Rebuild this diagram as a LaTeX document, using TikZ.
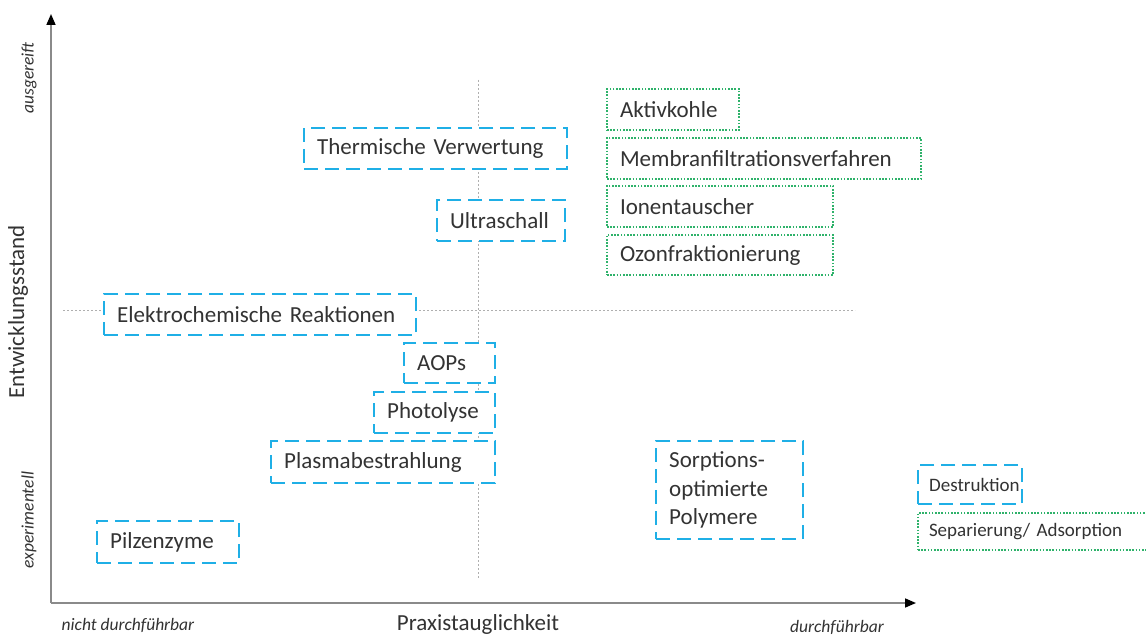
\documentclass[tikz,border=0pt]{standalone}
\usepackage{fontspec}
\setmainfont{Carlito}
\usetikzlibrary{arrows.meta}
\definecolor{bluebox}{HTML}{1FAFE6}
\definecolor{greenbox}{HTML}{2EB26A}
\definecolor{txt}{HTML}{333333}
\definecolor{axisgray}{HTML}{8A8A8A}
\definecolor{guide}{HTML}{AFAFAF}
\tikzset{
  bluedash/.style={draw=bluebox, line width=2.4pt, dash pattern=on 14pt off 7pt, fill=white,
    rectangle, anchor=north west, inner xsep=13pt, inner ysep=0pt, align=left, text=txt,
    font=\fontsize{23}{28.5}\selectfont},
  greendot/.style={draw=greenbox, line width=2pt, dash pattern=on 1.6pt off 1.6pt, fill=white,
    rectangle, anchor=north west, inner xsep=13pt, inner ysep=0pt, align=left, text=txt,
    font=\fontsize{23}{26}\selectfont},
  axisline/.style={draw=axisgray, line width=1.6pt},
  guideline/.style={draw=guide, line width=1pt, dash pattern=on 2pt off 2pt},
  axlabel/.style={text=txt, font=\fontsize{17.5}{19}\selectfont\itshape},
  axtitle/.style={text=txt, font=\fontsize{23}{25}\selectfont},
}
\newcommand{\bx}[7]{% style, name, x, y, w, h, text
  \node[#1, minimum width=#5pt, minimum height=#6pt, text width=#5pt-26pt] (#2) at (#3,#4) {#7};}
\begin{document}
\begin{tikzpicture}[x=1pt,y=-1pt]
\clip (0,0) rectangle (1146,636);
\fill[white] (0,0) rectangle (1146,636);
% guide lines
\coordinate (vtop) at (478,80);
\coordinate (vbot) at (478,578);
\coordinate (hl) at (63,311);
\coordinate (hr) at (855,311);
\draw[guideline] (vtop) -- (vbot);
\draw[guideline] (hl) -- (hr);
% axes
\coordinate (o) at (51,603);
\coordinate (ytip) at (51,14);
\coordinate (xtip) at (916,603);
\draw[axisline, -{Triangle[black,length=11pt,width=9pt]}] (o) -- (ytip);
\draw[axisline, -{Triangle[black,length=11pt,width=9pt]}] (o) -- (xtip);
% axis labels
\node[axtitle, rotate=90] (ylab) at (18,312) {Entwicklungsstand};
\node[axlabel, rotate=90] (yhi) at (29,78) {ausgereift};
\node[axlabel, rotate=90] (ylo) at (29,520) {experimentell};
\node[axlabel] (xlo) at (128,625) {nicht durchführbar};
\node[axtitle] (xlab) at (478,624) {Praxistauglichkeit};
\node[axlabel] (xhi) at (837,627) {durchführbar};
% boxes
\bx{bluedash}{tv}{303}{127}{263}{41}{Thermische Verwertung}
\bx{bluedash}{us}{436}{199}{128}{41}{Ultraschall}
\bx{bluedash}{er}{103}{293}{312}{41}{Elektrochemische Reaktionen}
\bx{bluedash}{aop}{403}{342}{91}{40}{AOPs}
\bx{bluedash}{pl}{373}{391}{121}{41}{Photolyse}
\bx{bluedash}{pb}{270}{440}{224}{42}{Plasmabestrahlung}
\bx{bluedash}{sp}{655}{440}{147}{98}{Sorptions-\\optimierte\\Polymere}
\bx{bluedash}{pz}{96}{520}{142}{42}{Pilzenzyme}
\bx{greendot}{ak}{606}{88}{132}{41}{Aktivkohle}
\bx{greendot}{mf}{606}{137}{314}{41}{Membranfiltrationsverfahren}
\bx{greendot}{it}{606}{185}{226}{41}{Ionentauscher}
\bx{greendot}{oz}{606}{234}{226}{40}{Ozonfraktionierung}
% legend
\node[bluedash, font=\fontsize{19}{21}\selectfont, inner xsep=11pt, minimum width=104pt, minimum height=39pt, text width=82pt] (de) at (917,464) {Destruktion};
\node[greendot, font=\fontsize{19}{21}\selectfont, inner xsep=11pt, minimum width=250pt, minimum height=37pt, text width=228pt] (sa) at (917,512) {Separierung/ Adsorption};
\end{tikzpicture}
\end{document}
